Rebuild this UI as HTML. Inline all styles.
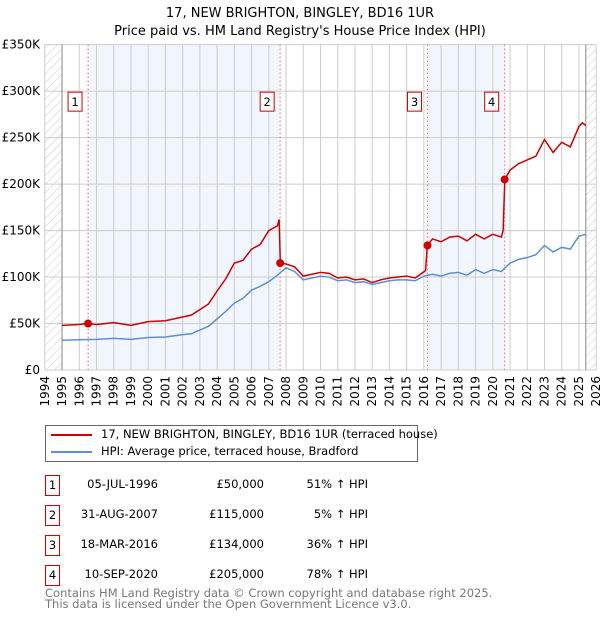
<!DOCTYPE html>
<html><head><meta charset="utf-8"><style>
body{margin:0;background:#fff;font-family:"DejaVu Sans","Liberation Sans",sans-serif;}
#c{position:absolute;left:0;top:0;}
.t{position:absolute;font-size:11.5px;color:#000;white-space:nowrap;}
.box{position:absolute;width:13px;height:19px;border:1px solid #c00;font-size:11.5px;text-align:center;line-height:19px;}
</style></head><body>
<svg id="c" width="600" height="620" font-family="DejaVu Sans, Liberation Sans, sans-serif">
<defs><pattern id="h" width="6" height="6" patternUnits="userSpaceOnUse" patternTransform="rotate(45)"><line x1="0" y1="0" x2="0" y2="6" stroke="#bbb" stroke-width="0.8"/></pattern></defs>
<text x="300" y="17" text-anchor="middle" font-size="13">17, NEW BRIGHTON, BINGLEY, BD16 1UR</text>
<text x="300" y="35" text-anchor="middle" font-size="13">Price paid vs. HM Land Registry's House Price Index (HPI)</text>
<g id="plot"></g>
</svg>
<div style="position:absolute;left:45px;top:425px;width:371px;height:35px;border:1px solid #666;">
<div style="position:absolute;left:5px;top:8px;width:41px;height:2px;background:#c00"></div>
<div class="t" style="left:55px;top:1px">17, NEW BRIGHTON, BINGLEY, BD16 1UR (terraced house)</div>
<div style="position:absolute;left:5px;top:25px;width:41px;height:2px;background:#5b8fd6"></div>
<div class="t" style="left:55px;top:18px">HPI: Average price, terraced house, Bradford</div>
</div>
<div id="tbl"></div>
<div class="t" style="left:45px;top:588px;color:#777;font-size:11.5px;line-height:11px">Contains HM Land Registry data © Crown copyright and database right 2025.<br>This data is licensed under the Open Government Licence v3.0.</div>
<script>
const years=[1994,1995,1996,1997,1998,1999,2000,2001,2002,2003,2004,2005,2006,2007,2008,2009,2010,2011,2012,2013,2014,2015,2016,2017,2018,2019,2020,2021,2022,2023,2024,2025,2026];
const yTicks=[0,50,100,150,200,250,300,350];
const hpiT=[1995,1996,1997,1998,1999,2000,2001,2002,2002.5,2003,2003.5,2004,2004.5,2005,2005.5,2006,2006.5,2007,2007.5,2008,2008.5,2009,2009.5,2010,2010.5,2011,2011.5,2012,2012.5,2013,2013.5,2014,2014.5,2015,2015.5,2016,2016.5,2017,2017.5,2018,2018.5,2019,2019.5,2020,2020.5,2021,2021.5,2022,2022.5,2023,2023.5,2024,2024.5,2025,2025.4];
const hpiV=[32,32.5,33,34,33,35,35.5,38,39,43,47,55,63,72,77,86,90,95,102,110,106,97,99,101,100,96,97,94,95,92,94,96,97,97,96,101,103,101,104,105,102,108,104,108,106,115,119,121,124,134,127,132,130,144,146];
const redT=[1995,1996,1996.5,1997,1998,1999,2000,2001,2002,2002.5,2003,2003.5,2004,2004.5,2005,2005.5,2006,2006.5,2007,2007.5,2007.6,2007.67,2008,2008.5,2009,2009.5,2010,2010.5,2011,2011.5,2012,2012.5,2013,2013.5,2014,2014.5,2015,2015.5,2016.1,2016.2,2016.5,2017,2017.5,2018,2018.5,2019,2019.5,2020,2020.5,2020.6,2020.7,2021,2021.5,2022,2022.5,2023,2023.5,2024,2024.5,2025,2025.2,2025.4];
const redV=[48,49,50,49,51,48,52,53,57,59,65,71,85,98,115,118,130,135,150,155,162,115,114,111,101,103,105,104,99,100,97,98,94,97,99,100,101,99,107,134,141,138,143,144,139,146,141,146,143,150,205,215,222,226,230,248,234,245,240,262,266,263];
const saleT=[1996.51,2007.66,2016.21,2020.69];
const saleV=[50,115,134,205];
const saleLbl=["1","2","3","4"];
const saleDates=["05-JUL-1996","31-AUG-2007","18-MAR-2016","10-SEP-2020"];
const salePrices=["£50,000","£115,000","£134,000","£205,000"];
const salePct=["51% ↑ HPI","5% ↑ HPI","36% ↑ HPI","78% ↑ HPI"];
const X=t=>44.8+(t-1994)*17.23, Y=v=>370-v*0.9295;
const NS="http://www.w3.org/2000/svg", g=document.getElementById('plot');
function mk(tag,a){const e=document.createElementNS(NS,tag);for(const k in a)e.setAttribute(k,a[k]);g.appendChild(e);return e;}
let e;
e=mk('rect',{x:X(1994),y:Y(350),width:X(1995)-X(1994),height:Y(0)-Y(350),fill:'url(#h)'});


e=mk('rect',{x:X(2025.4),y:Y(350),width:X(2026)-X(2025.4),height:Y(0)-Y(350),fill:'url(#h)'});


[[0,1],[2,3]].forEach(p=>{e=mk('rect',{x:X(saleT[p[0]]),y:Y(350),width:X(saleT[p[1]])-X(saleT[p[0]]),height:Y(0)-Y(350),fill:'#eef3fc',opacity:0.8});

});
years.forEach(y=>{e=mk('line',{x1:X(y),x2:X(y),y1:Y(350),y2:Y(0),stroke:'#ccc'});


e=mk('text',{x:0,y:0,'font-size':12,'text-anchor':'end',transform:`translate(${X(y)+4},${Y(0)+6}) rotate(-90)`});e.textContent=y;

});
yTicks.forEach(v=>{e=mk('line',{x1:X(1994),x2:X(2026),y1:Y(v),y2:Y(v),stroke:'#ccc'});


e=mk('text',{x:40,y:Y(v)+4,'font-size':12,'text-anchor':'end'});e.textContent=v?'£'+v+'K':'£0';

});
e=mk('line',{x1:X(1995),x2:X(1995),y1:Y(350),y2:Y(0),stroke:'#888'});


e=mk('line',{x1:X(2025.4),x2:X(2025.4),y1:Y(350),y2:Y(0),stroke:'#888'});


saleT.forEach((t,i)=>{e=mk('line',{x1:X(t),x2:X(t),y1:Y(350),y2:Y(0),stroke:'#f66','stroke-dasharray':'1.5,2.5'});


e=mk('rect',{x:X(t)-20,y:Y(300)+1,width:14,height:19,fill:'#fff',stroke:'#c00'});


e=mk('text',{x:X(t)-13,y:Y(300)+15,'font-size':11.5,'text-anchor':'middle'});e.textContent=saleLbl[i];

});
e=mk('polyline',{points:hpiT.map((t,i)=>X(t)+','+Y(hpiV[i])).join(' '),fill:'none',stroke:'#5b8fd6','stroke-width':1.5});


e=mk('polyline',{points:redT.map((t,i)=>X(t)+','+Y(redV[i])).join(' '),fill:'none',stroke:'#c00','stroke-width':1.5});


saleT.forEach((t,i)=>{e=mk('circle',{cx:X(t),cy:Y(saleV[i]),r:4,fill:'#c00'});

});
const tb=document.getElementById('tbl');
saleLbl.forEach((l,i)=>{const top=475+i*30;
let d=document.createElement('div');d.className='box';d.style.left='45px';d.style.top=top+'px';d.textContent=l;

tb.appendChild(d);
[[saleDates[i],158,'sale-date'],[salePrices[i],264,'sale-price'],[salePct[i],368,'sale-hpi-change']].forEach(c=>{
let s=document.createElement('div');s.className='t';s.style.right=(600-c[1])+'px';s.style.top=(top+2)+'px';s.textContent=c[0];

tb.appendChild(s);});});
</script>
</body></html>
